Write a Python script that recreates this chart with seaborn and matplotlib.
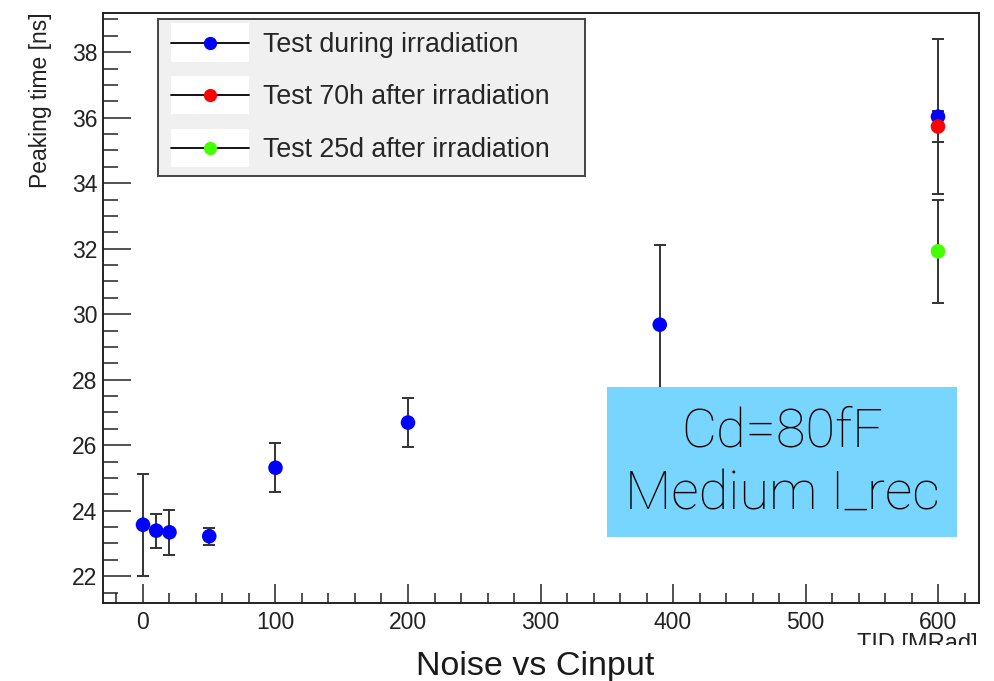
import matplotlib
matplotlib.use("Agg")
import matplotlib.pyplot as plt
from matplotlib.lines import Line2D
from matplotlib.patches import Rectangle
from matplotlib.legend_handler import HandlerLine2D
from matplotlib.ticker import MultipleLocator
import numpy as np
import pandas as pd
import seaborn as sns

# TID dose [MRad] and peaking time [ns] with uncertainties
tid_during = [0, 10, 20, 50, 100, 200, 390, 600]
peak_during = [23.57, 23.39, 23.34, 23.22, 25.31, 26.69, 29.68, 36.03]
err_during = [1.56, 0.52, 0.69, 0.26, 0.75, 0.74, 2.43, 2.36]

tid_70h = [600]
peak_70h = [35.73]
err_70h = [0.48]

tid_25d = [600]
peak_25d = [31.92]
err_25d = [1.58]

series_names = ["Test during irradiation", "Test 70h after irradiation",
                "Test 25d after irradiation"]
series_colors = ["#0000ff", "#ff0000", "#44ff00"]

sns.set_style("ticks")
plt.rcParams["font.family"] = ["Liberation Sans", "DejaVu Sans"]

frames = []
for name, xs, ys, es in zip(series_names,
                            [tid_during, tid_70h, tid_25d],
                            [peak_during, peak_70h, peak_25d],
                            [err_during, err_70h, err_25d]):
    frames.append(pd.DataFrame({"tid": xs, "peak": ys, "err": es, "series": name}))
df = pd.concat(frames, ignore_index=True)

fig = plt.figure(figsize=(9.95, 6.81), dpi=100)
ax = fig.add_axes([0.1035, 0.1145, 0.8805, 0.8671])

# error bars first, markers on top
for name in series_names:
    sub = df[df["series"] == name]
    ax.errorbar(sub["tid"], sub["peak"], yerr=sub["err"], fmt="none",
                ecolor="#333333", elinewidth=1.4, capsize=4.5, capthick=1.4,
                zorder=2)

sns.scatterplot(data=df, x="tid", y="peak", hue="series", hue_order=series_names,
                palette=series_colors, s=110, edgecolor="none", legend=False,
                ax=ax, zorder=3)

ax.set_xlim(-30.2, 631)
ax.set_ylim(21.18, 39.21)
ax.set_xlabel("")
ax.set_ylabel("")

ax.xaxis.set_major_locator(MultipleLocator(100))
ax.xaxis.set_minor_locator(MultipleLocator(20))
ax.yaxis.set_major_locator(MultipleLocator(2))
ax.yaxis.set_minor_locator(MultipleLocator(0.5))

ax.tick_params(axis="both", which="both", direction="in", width=1.1,
               colors="#222222", labelcolor="#222222", labelsize=16.5,
               top=False, right=False)
ax.tick_params(axis="x", which="major", length=14, pad=6)
ax.tick_params(axis="x", which="minor", length=7)
ax.tick_params(axis="y", which="major", length=20, pad=4)
ax.tick_params(axis="y", which="minor", length=11)
for sp in ax.spines.values():
    sp.set_visible(True)
    sp.set_linewidth(1.4)
    sp.set_color("#222222")


class BoxedHandler(HandlerLine2D):
    """Line-with-marker legend key on a white background."""

    def create_artists(self, legend, orig_handle, xdescent, ydescent, width,
                       height, fontsize, trans):
        pad = 0.36 * fontsize
        bg = Rectangle((-xdescent, -ydescent - pad), width, height + 2 * pad,
                       facecolor="white", edgecolor="none", transform=trans)
        arts = super().create_artists(legend, orig_handle, xdescent, ydescent,
                                      width, height, fontsize, trans)
        return [bg] + arts


handles = [Line2D([0], [0], color="black", lw=1.3, marker="o", markersize=8.5,
                  markerfacecolor=c, markeredgecolor=c) for c in series_colors]
leg = ax.legend(handles, series_names, loc="upper left",
                bbox_to_anchor=(0.0628, 0.7265, 0.4875, 0.2625), mode="expand",
                borderaxespad=0, fontsize=19.3, frameon=True, fancybox=False,
                framealpha=1, facecolor="#f0f0f0", edgecolor="#444444",
                handlelength=2.9, handletextpad=0.55, labelspacing=0.99,
                borderpad=0.48,
                handler_map={Line2D: BoxedHandler(numpoints=1)})
leg.get_frame().set_linewidth(1.4)

# axis titles
fig.text(41 / 995, 1 - 12 / 681, "Peaking time [ns]", rotation=90,
         ha="center", va="top", fontsize=16.5, color="#222222")
fig.text(978 / 995, 1 - 633 / 681, "TID [MRad]", ha="right", va="top",
         fontsize=17, color="#222222", zorder=3)
fig.add_artist(Rectangle((800 / 995, 0), 195 / 995, 36 / 681,
                         transform=fig.transFigure, facecolor="white",
                         edgecolor="none", zorder=4))
fig.text(535 / 995, 1 - 666 / 681, "Noise vs Cinput", ha="center",
         va="center", fontsize=24.5, color="#1a1a1a", zorder=5)

# annotation box
fig.add_artist(Rectangle((607 / 995, 1 - 537 / 681), 350 / 995, 150 / 681,
                         transform=fig.transFigure, facecolor="#78d5fd",
                         edgecolor="none", zorder=6))
fig.text(782 / 995, 1 - 432 / 681, "Cd=80fF", ha="center", va="center",
         fontsize=39, color="black", family=["Roboto", "DejaVu Sans"],
         fontweight="light", zorder=7)
fig.text(782 / 995, 1 - 494 / 681, "Medium I_rec", ha="center", va="center",
         fontsize=39, color="black", family=["Roboto", "DejaVu Sans"],
         fontweight="light", zorder=7)

fig.savefig("out.png", dpi=100)
